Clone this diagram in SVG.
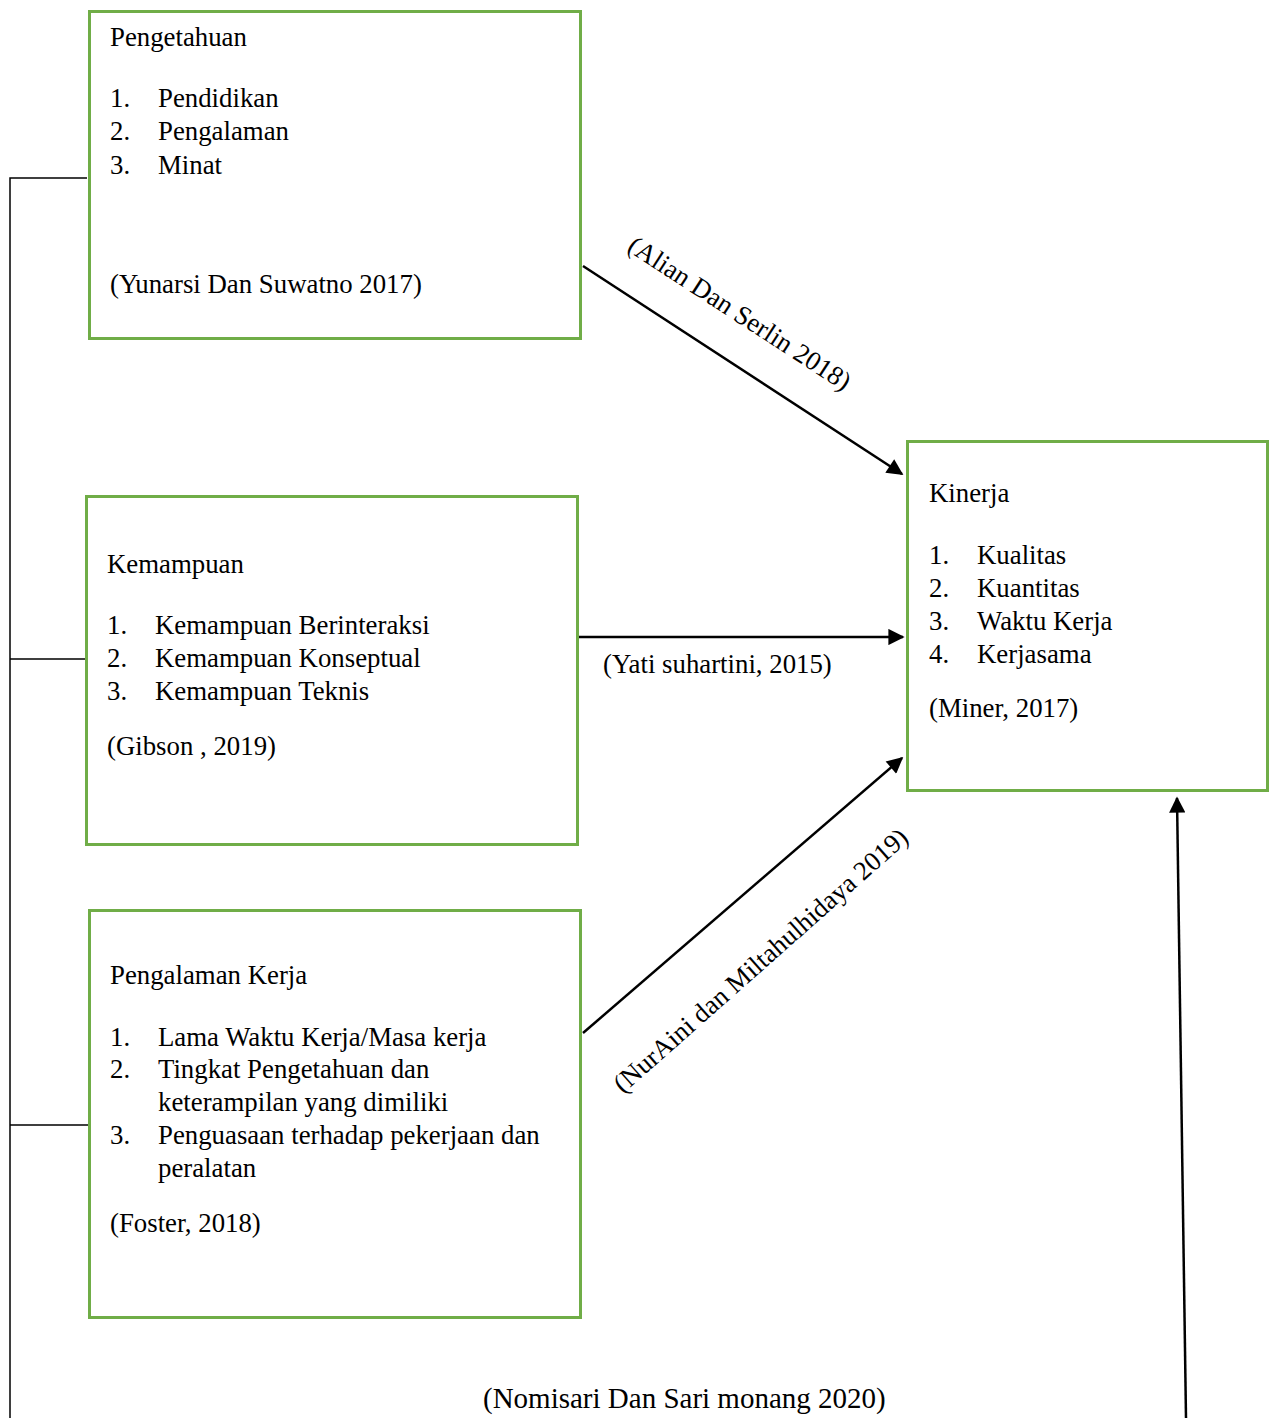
<svg xmlns="http://www.w3.org/2000/svg" width="1275" height="1418" viewBox="0 0 1275 1418">
<style>
.box{fill:#fff;stroke:#70AD47;stroke-width:3}
.t{font-family:"Liberation Serif","Times New Roman",serif;font-size:26.8px;fill:#000}
.br{stroke:#000;stroke-width:1.5;fill:none}
.ar{stroke:#000;stroke-width:2.5;fill:none;marker-end:url(#ah)}
</style>
<defs>
<marker id="ah" viewBox="0 0 10 10" refX="9" refY="5" markerWidth="7.5" markerHeight="6.5" markerUnits="strokeWidth" orient="auto">
<path d="M0,0 L10,5 L0,10 Z" fill="#000"/>
</marker>
</defs>
<rect width="1275" height="1418" fill="#fff"/>
<g id="connectors">
<path class="br" d="M87,178 H10 V1418 M10,659 H86 M10,1125 H88"/>
<line class="ar" x1="583" y1="266" x2="902" y2="474"/>
<line class="ar" x1="578" y1="637" x2="903" y2="637"/>
<line class="ar" x1="583" y1="1033" x2="902" y2="758"/>
<line class="ar" x1="1186" y1="1418" x2="1177" y2="798"/>
<text class="t" transform="translate(626,250) rotate(33)">(Alian Dan Serlin 2018)</text>
<text class="t" x="603" y="673">(Yati suhartini, 2015)</text>
<text class="t" transform="translate(623,1094) rotate(-41.5)">(NurAini dan Miltahulhidaya 2019)</text>
<text class="t" x="483" y="1408" style="font-size:29px">(Nomisari Dan Sari monang 2020)</text>
</g>
<g id="pengetahuan">
<rect class="box" x="89.5" y="11.5" width="491" height="327"/>
<text class="t" x="110" y="46">Pengetahuan</text>
<text class="t" x="110" y="107">1.</text><text class="t" x="158" y="107">Pendidikan</text>
<text class="t" x="110" y="140">2.</text><text class="t" x="158" y="140">Pengalaman</text>
<text class="t" x="110" y="174">3.</text><text class="t" x="158" y="174">Minat</text>
<text class="t" x="110" y="293">(Yunarsi Dan Suwatno 2017)</text>
</g>
<g id="kemampuan">
<rect class="box" x="86.5" y="496.5" width="491" height="348"/>
<text class="t" x="107" y="573">Kemampuan</text>
<text class="t" x="107" y="634">1.</text><text class="t" x="155" y="634">Kemampuan Berinteraksi</text>
<text class="t" x="107" y="667">2.</text><text class="t" x="155" y="667">Kemampuan Konseptual</text>
<text class="t" x="107" y="700">3.</text><text class="t" x="155" y="700">Kemampuan Teknis</text>
<text class="t" x="107" y="755">(Gibson , 2019)</text>
</g>
<g id="pengalaman-kerja">
<rect class="box" x="89.5" y="910.5" width="491" height="407"/>
<text class="t" x="110" y="984">Pengalaman Kerja</text>
<text class="t" x="110" y="1046">1.</text><text class="t" x="158" y="1046">Lama Waktu Kerja/Masa kerja</text>
<text class="t" x="110" y="1078">2.</text><text class="t" x="158" y="1078">Tingkat Pengetahuan dan</text>
<text class="t" x="158" y="1111">keterampilan yang dimiliki</text>
<text class="t" x="110" y="1144">3.</text><text class="t" x="158" y="1144">Penguasaan terhadap pekerjaan dan</text>
<text class="t" x="158" y="1177">peralatan</text>
<text class="t" x="110" y="1232">(Foster, 2018)</text>
</g>
<g id="kinerja">
<rect class="box" x="907.5" y="441.5" width="360" height="349"/>
<text class="t" x="929" y="502">Kinerja</text>
<text class="t" x="929" y="564">1.</text><text class="t" x="977" y="564">Kualitas</text>
<text class="t" x="929" y="597">2.</text><text class="t" x="977" y="597">Kuantitas</text>
<text class="t" x="929" y="630">3.</text><text class="t" x="977" y="630">Waktu Kerja</text>
<text class="t" x="929" y="663">4.</text><text class="t" x="977" y="663">Kerjasama</text>
<text class="t" x="929" y="717">(Miner, 2017)</text>
</g>
</svg>
